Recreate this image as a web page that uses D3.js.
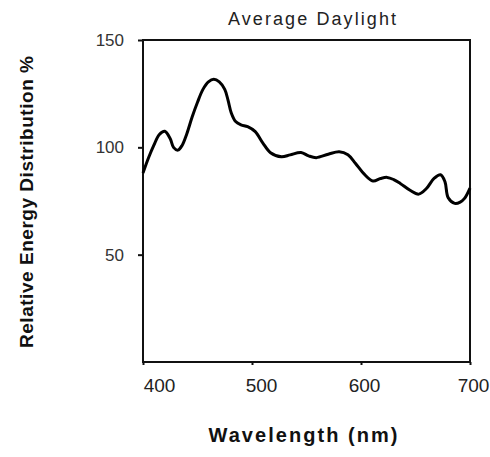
<!DOCTYPE html>
<html>
<head>
<meta charset="utf-8">
<script src="https://cdn.jsdelivr.net/npm/d3@7"></script>
<style>
    body { margin: 0; background: #fff; }
    svg { font-family: "Liberation Sans", Arial, sans-serif; }
</style>
</head>
<body>
<svg id="chart" width="490" height="457"></svg>
<script>
// wavelength (nm) and relative energy (%)
var wavelengths = [400, 405, 410, 415, 420, 425, 428, 432, 436, 440, 445, 450, 455, 460, 465, 470,
    475, 478, 481, 485, 490, 496, 503, 510, 517, 527, 535, 545, 552, 559, 570, 580, 588, 595, 603,
    611, 618, 624, 630, 636, 645, 653, 660, 667, 673, 677, 680, 686, 691, 695, 700];
var energy = [88, 95, 101, 106, 107.5, 104, 100, 98.7, 101, 106, 114, 121, 127, 130.5, 131.7, 130.5,
    127, 122, 116, 112, 110.5, 109.6, 107.3, 102, 97.5, 95.6, 96.5, 97.6, 96, 95.2, 96.8, 97.9, 96.5,
    92.5, 87.5, 84.3, 85.5, 86, 85, 83.2, 80, 78.2, 80.8, 85.5, 87.2, 84, 76.5, 73.9, 74.5, 76.2, 81];
var xTicks = [400, 500, 600, 700];
var yTicks = [50, 100, 150];

var svg = d3.select('#chart');
var plotLeft = 143, plotRight = 470, plotTop = 40, plotBottom = 362;

var x = d3.scaleLinear().domain([400, 700]).range([plotLeft, plotRight]);
var y = d3.scaleLinear().domain([0, 150]).range([plotBottom, plotTop]);

// frame
svg.append('rect')
    .attr('x', plotLeft).attr('y', plotTop)
    .attr('width', plotRight - plotLeft).attr('height', plotBottom - plotTop)
    .attr('fill', 'none').attr('stroke', '#111').attr('stroke-width', 2);

var yAxis = svg.append('g')
    .attr('transform', 'translate(' + plotLeft + ',0)')
    .call(d3.axisLeft(y).tickValues(yTicks).tickSize(5).tickPadding(14));
yAxis.select('.domain').remove();
yAxis.selectAll('line').attr('stroke', '#111').attr('stroke-width', 2);
yAxis.selectAll('text')
    .attr('font-size', 17).attr('fill', '#333')
    .attr('font-family', '"Liberation Sans", Arial, sans-serif');

var xAxis = svg.append('g')
    .attr('transform', 'translate(0,' + plotBottom + ')')
    .call(d3.axisBottom(x).tickValues(xTicks).tickSize(3).tickPadding(14));
xAxis.select('.domain').remove();
xAxis.selectAll('line').attr('stroke', '#111').attr('stroke-width', 2);
xAxis.selectAll('text')
    .attr('font-size', 19).attr('fill', '#222')
    .attr('font-family', '"Liberation Sans", Arial, sans-serif')
    .attr('dx', function(d) { return d === 400 ? 16 : d === 500 ? 9 : 3; });

var data = wavelengths.map(function(w, i) { return {w: w, e: energy[i]}; });
var line = d3.line()
    .x(function(d) { return x(d.w); })
    .y(function(d) { return y(d.e); })
    .curve(d3.curveCatmullRom.alpha(0.5));

svg.append('path')
    .datum(data)
    .attr('d', line)
    .attr('fill', 'none')
    .attr('stroke', '#000')
    .attr('stroke-width', 3)
    .attr('stroke-linejoin', 'round');

// titles
svg.append('text')
    .attr('x', 312).attr('y', 25)
    .attr('text-anchor', 'middle')
    .attr('font-size', 18).attr('fill', '#222')
    .attr('textLength', 168)
    .text('Average Daylight');

svg.append('text')
    .attr('x', 303).attr('y', 442)
    .attr('text-anchor', 'middle')
    .attr('font-size', 20).attr('font-weight', 'bold').attr('fill', '#111')
    .attr('textLength', 189)
    .text('Wavelength  (nm)');

svg.append('text')
    .attr('transform', 'translate(33,202) rotate(-90)')
    .attr('text-anchor', 'middle')
    .attr('font-size', 19).attr('font-weight', 'bold').attr('fill', '#111')
    .attr('textLength', 292)
    .text('Relative  Energy  Distribution  %');
</script>
</body>
</html>
